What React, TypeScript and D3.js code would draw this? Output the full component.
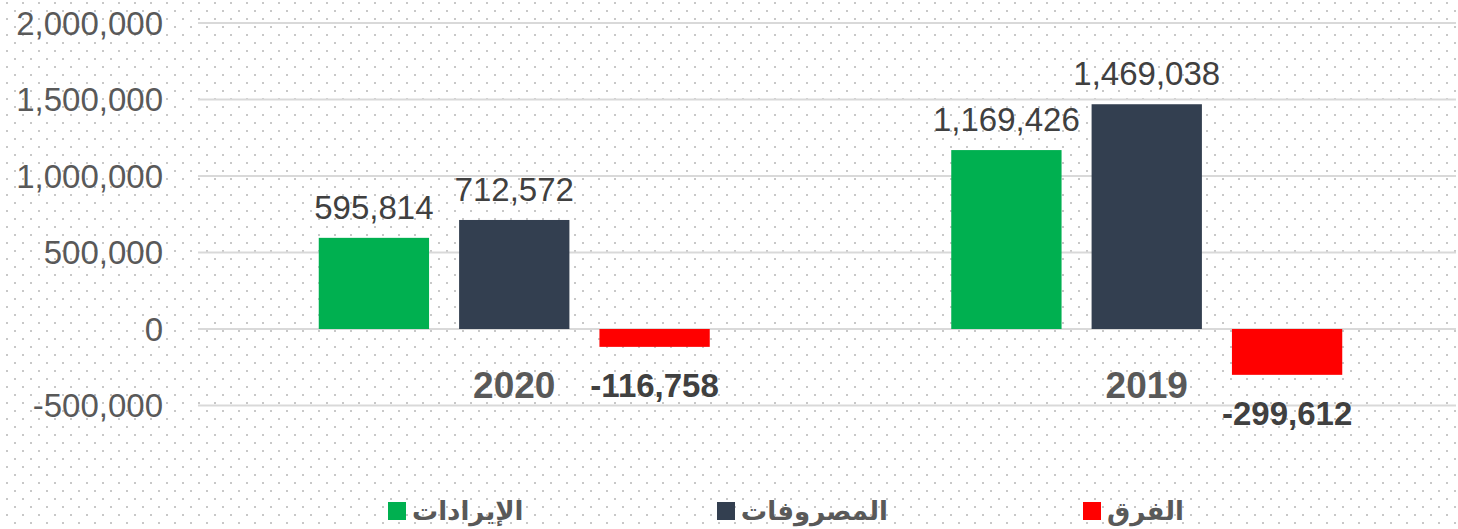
import React from "react";
import * as d3 from "d3";

const years = ["2020", "2019"];
const seriesNames = ["الإيرادات", "المصروفات", "الفرق"];
const seriesColors = ["#00B050", "#333F50", "#FF0000"];
const revenues = [595814, 1169426];
const expenses = [712572, 1469038];
const differences = [-116758, -299612];
const yTicks = [-500000, 0, 500000, 1000000, 1500000, 2000000];

const W = 1458;
const H = 529;

export default function App() {
  const values = [revenues, expenses, differences];
  const x0 = d3.scaleBand<string>().domain(years).range([198, 1463]);
  const groupW = 391;
  const x1 = d3
    .scaleBand<number>()
    .domain([0, 1, 2])
    .range([0, groupW])
    .paddingInner(0.214);
  const y = d3.scaleLinear().domain([-500000, 2000000]).range([405.5, 23]);
  const f = d3.format(",");
  const fmt = (v: number) => f(v).replace("\u2212", "-");

  const legendX = [388, 717, 1083];

  return (
    <svg
      width={W}
      height={H}
      style={{ position: "absolute", left: 0, top: 0, background: "#fff" }}
    >
      <defs>
        <pattern
          id="dots"
          x={6}
          y={2}
          width={16}
          height={16}
          patternUnits="userSpaceOnUse"
        >
          <rect x={0} y={0} width={2} height={2} fill="#C8C8C8" />
          <rect x={8} y={8} width={2} height={2} fill="#C8C8C8" />
        </pattern>
      </defs>
      <rect x={0} y={0} width={W} height={H} fill="url(#dots)" />

      {yTicks.map((t) => (
        <g key={t}>
          <line
            x1={198}
            x2={1456}
            y1={y(t)}
            y2={y(t)}
            stroke="#D9D9D9"
            strokeWidth={2}
          />
          <text
            x={163}
            y={y(t)}
            dy="0.36em"
            textAnchor="end"
            fontFamily="Liberation Sans, Arial, sans-serif"
            fontSize={33}
            fill="#595959"
          >
            {fmt(t)}
          </text>
        </g>
      ))}

      {years.map((yr, i) => {
        const gx = (x0(yr) as number) + (x0.bandwidth() - groupW) / 2;
        return (
          <g key={yr}>
            {values.map((vals, s) => {
              const v = vals[i];
              const bx = gx + (x1(s) as number);
              const top = Math.min(y(v), y(0));
              const h = Math.abs(y(v) - y(0));
              return (
                <g key={s}>
                  <rect
                    x={bx}
                    y={top}
                    width={x1.bandwidth()}
                    height={h}
                    fill={seriesColors[s]}
                  />
                  {v >= 0 ? (
                    <text
                      x={bx + x1.bandwidth() / 2}
                      y={y(v) - 19}
                      textAnchor="middle"
                      fontFamily="Liberation Sans, Arial, sans-serif"
                      fontSize={33}
                      fill="#404040"
                    >
                      {fmt(v)}
                    </text>
                  ) : (
                    <text
                      x={bx + x1.bandwidth() / 2}
                      y={y(v) + 50}
                      textAnchor="middle"
                      fontFamily="Liberation Sans, Arial, sans-serif"
                      fontSize={33}
                      fontWeight="bold"
                      fill="#404040"
                    >
                      {fmt(v)}
                    </text>
                  )}
                </g>
              );
            })}
            <text
              x={(x0(yr) as number) + x0.bandwidth() / 2}
              y={398}
              textAnchor="middle"
              fontFamily="Liberation Sans, Arial, sans-serif"
              fontSize={37}
              fontWeight="bold"
              fill="#595959"
            >
              {yr}
            </text>
          </g>
        );
      })}

      {seriesNames.map((name, s) => (
        <g key={name}>
          <rect
            x={legendX[s]}
            y={502}
            width={18}
            height={18}
            fill={seriesColors[s]}
          />
          <text
            x={legendX[s] + 24}
            y={520}
            textAnchor="start"
            fontFamily="DejaVu Sans, sans-serif"
            fontSize={26}
            fontWeight="bold"
            fill="#595959"
          >
            {name}
          </text>
        </g>
      ))}
    </svg>
  );
}
